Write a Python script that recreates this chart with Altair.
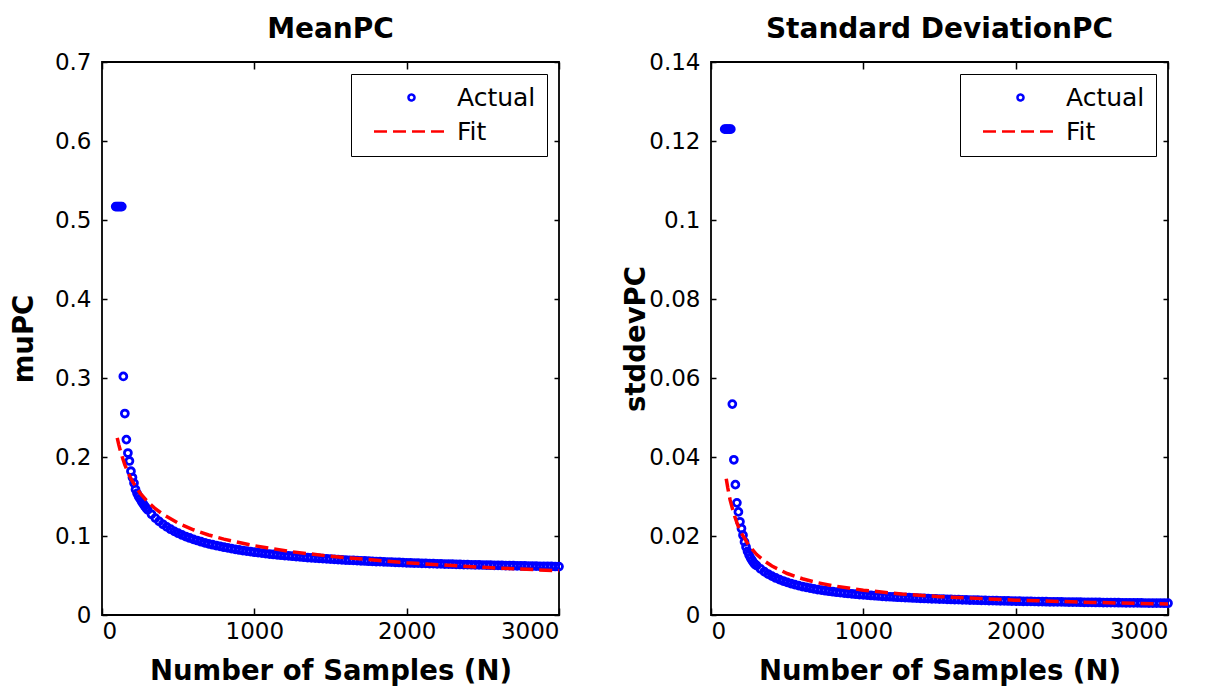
import altair as alt
import pandas as pd

# ---------------- data ----------------
N_ACTUAL = [90, 100, 110, 120, 130, 140, 150, 160, 170, 180, 190, 200, 210, 220, 230, 240, 250, 260, 270, 280, 290, 300,
            325, 350, 375, 400, 425, 450, 475, 500, 525, 550, 575, 600, 625, 650, 675, 700, 725, 750, 775, 800,
            825, 850, 875, 900, 925, 950, 975, 1000,
            1025, 1050, 1075, 1100, 1125, 1150, 1175, 1200, 1225, 1250, 1275, 1300, 1325, 1350, 1375, 1400,
            1425, 1450, 1475, 1500,
            1525, 1550, 1575, 1600, 1625, 1650, 1675, 1700, 1725, 1750, 1775, 1800, 1825, 1850, 1875, 1900,
            1925, 1950, 1975, 2000,
            2025, 2050, 2075, 2100, 2125, 2150, 2175, 2200, 2225, 2250, 2275, 2300, 2325, 2350, 2375, 2400,
            2425, 2450, 2475, 2500,
            2525, 2550, 2575, 2600, 2625, 2650, 2675, 2700, 2725, 2750, 2775, 2800, 2825, 2850, 2875, 2900,
            2925, 2950, 2975, 3000]

MU_ACTUAL = [0.517, 0.517, 0.517, 0.517, 0.517,
             0.302, 0.255, 0.222, 0.205, 0.195, 0.182, 0.174, 0.167,
             0.159, 0.154, 0.150, 0.147, 0.1437, 0.1408, 0.138, 0.1354, 0.133,
             0.1275, 0.1227, 0.1185, 0.1148, 0.1116, 0.1086, 0.1059, 0.1035, 0.1013, 0.0993, 0.0975, 0.0958,
             0.0943, 0.0928, 0.0914, 0.0901, 0.0890, 0.0879, 0.0868, 0.0858, 0.0849, 0.0840, 0.0831, 0.0823,
             0.0816, 0.0809, 0.0802, 0.0795,
             0.0789, 0.0783, 0.0777, 0.0771, 0.0766, 0.0761, 0.0757, 0.0752, 0.0748, 0.0744, 0.0739, 0.0735,
             0.0731, 0.0727, 0.0724, 0.0720, 0.0717, 0.0714, 0.0711, 0.0708,
             0.0705, 0.0702, 0.0699, 0.0696, 0.0693, 0.0691, 0.0688, 0.0686, 0.0684, 0.0681, 0.0679, 0.0677,
             0.0675, 0.0673, 0.0671, 0.0669, 0.0667, 0.0665, 0.0663, 0.0661,
             0.0659, 0.0658, 0.0656, 0.0654, 0.0653, 0.0651, 0.0650, 0.0648, 0.0647, 0.0645, 0.0644, 0.0643,
             0.0641, 0.0640, 0.0639, 0.0637, 0.0636, 0.0635, 0.0634, 0.0633,
             0.0632, 0.0630, 0.0629, 0.0628, 0.0627, 0.0626, 0.0625, 0.0624, 0.0623, 0.0622, 0.0621, 0.0620,
             0.0619, 0.0618, 0.0617, 0.0616, 0.0616, 0.0615, 0.0614, 0.0613]

SD_ACTUAL = [0.123, 0.123, 0.123, 0.123, 0.123,
             0.0534, 0.0393, 0.0330, 0.0284, 0.0261, 0.0236, 0.0219, 0.0202,
             0.0185, 0.0172, 0.0161, 0.0152, 0.0144, 0.0138, 0.0132, 0.0128, 0.0125,
             0.01167, 0.01098, 0.01037, 0.00985, 0.00938, 0.00897, 0.00860, 0.00826, 0.00796, 0.00769,
             0.00744, 0.00721, 0.00700, 0.00680, 0.00662, 0.00645, 0.00630, 0.00615, 0.00602, 0.00589,
             0.00577, 0.00565, 0.00555, 0.00545, 0.00535, 0.00526, 0.00518, 0.00510,
             0.00502, 0.00495, 0.00488, 0.00481, 0.00474, 0.00468, 0.00462, 0.00457, 0.00451, 0.00446,
             0.00441, 0.00437, 0.00432, 0.00428, 0.00423, 0.00419, 0.00415, 0.00411, 0.00408, 0.00404,
             0.00401, 0.00397, 0.00394, 0.00391, 0.00388, 0.00385, 0.00382, 0.00379, 0.00377, 0.00374,
             0.00371, 0.00369, 0.00366, 0.00364, 0.00362, 0.00360, 0.00357, 0.00355, 0.00353, 0.00351,
             0.00349, 0.00347, 0.00346, 0.00344, 0.00342, 0.00340, 0.00339, 0.00337, 0.00335, 0.00334,
             0.00332, 0.00331, 0.00329, 0.00328, 0.00326, 0.00325, 0.00324, 0.00322, 0.00321, 0.00320,
             0.00318, 0.00317, 0.00316, 0.00315, 0.00314, 0.00312, 0.00311, 0.00310, 0.00309, 0.00308,
             0.00307, 0.00306, 0.00305, 0.00304, 0.00303, 0.00302, 0.00301, 0.00300, 0.00299, 0.00299]

N_FIT = [100, 110, 125, 150, 175, 200, 250, 300, 350, 400, 500, 600, 700, 800, 1000, 1250, 1500, 2000, 2500, 3000]
MU_FIT = [0.2243, 0.2157, 0.2048, 0.1901, 0.1785, 0.1690, 0.1543, 0.1433, 0.1345, 0.1275, 0.1163, 0.1079,
          0.1013, 0.0960, 0.0877, 0.0800, 0.0743, 0.0661, 0.0603, 0.0560]
SD_FIT = [0.0345, 0.0322, 0.0292, 0.0256, 0.0228, 0.0207, 0.0175, 0.0153, 0.0137, 0.0124, 0.0105, 0.00917,
          0.00818, 0.00741, 0.00628, 0.00532, 0.00465, 0.00376, 0.00319, 0.00279]

X_TICKS = [0, 1000, 2000, 3000]
MU_TICKS = [0, 0.1, 0.2, 0.3, 0.4, 0.5, 0.6, 0.7]
SD_TICKS = [0, 0.02, 0.04, 0.06, 0.08, 0.1, 0.12, 0.14]
SERIES = ["Actual", "Fit"]

# ---------------- styling ----------------
FONT = "DejaVu Sans"
BLUE = "#0000FF"
RED = "#FF0000"
DASH = [13, 6]
CIRCLE_PATH = "M1,0A1,1,0,1,1,-1,0A1,1,0,1,1,1,0Z"
LINE_PATH = "M-12.5,0H12.5"


def panel(y_act, y_fit, title, ytitle, ymax, yticks, ytitle_pad):
    act = pd.DataFrame({"N": N_ACTUAL, "v": y_act})
    fit = pd.DataFrame({"N": N_FIT, "v": y_fit})
    xs = alt.Scale(domain=[0, 3000], nice=False, zero=False)
    ys = alt.Scale(domain=[0, ymax], nice=False)

    pts = alt.Chart(act).mark_point(
        filled=False, shape="circle", size=48, strokeWidth=2.8, color=BLUE, opacity=1
    ).encode(
        x=alt.X("N:Q", scale=xs, axis=alt.Axis(
            values=X_TICKS, format="d", title="Number of Samples (N)", offset=-7, tickSize=7,
            domain=False, grid=False, labelPadding=5, titlePadding=14)),
        y=alt.Y("v:Q", scale=ys, axis=alt.Axis(
            values=yticks, format="~g", title=ytitle, offset=-5, tickSize=5,
            domain=False, grid=False, labelPadding=11, titlePadding=ytitle_pad)),
    )

    line = alt.Chart(fit).mark_line(
        color=RED, strokeWidth=3.5, strokeDash=DASH
    ).encode(
        x=alt.X("N:Q", scale=xs, axis=alt.Axis(
            orient="top", values=X_TICKS, labels=False, title=None, offset=-7, tickSize=7,
            domain=False, grid=False)),
        y=alt.Y("v:Q", scale=ys, axis=alt.Axis(
            orient="right", values=yticks, labels=False, title=None, offset=-5, tickSize=5,
            domain=False, grid=False)),
    )

    leg_props = dict(
        title=None, orient="top-right", offset=12, padding=11, rowPadding=8,
        labelFont=FONT, labelFontSize=25, labelColor="black", labelOffset=33,
        symbolOffset=37, symbolSize=36, symbolStrokeWidth=2.5,
        strokeColor="black", fillColor="white",
    )
    leg = alt.Chart(fit).transform_calculate(s="'Fit'").transform_filter("false").mark_point(
        filled=False, strokeWidth=2.5, opacity=1
    ).encode(
        x=alt.X("N:Q", scale=xs, axis=None),
        y=alt.Y("v:Q", scale=ys, axis=None),
        color=alt.Color("s:N", scale=alt.Scale(domain=SERIES, range=[BLUE, RED]),
                        legend=alt.Legend(**leg_props)),
        shape=alt.Shape("s:N", scale=alt.Scale(domain=SERIES, range=[CIRCLE_PATH, LINE_PATH]),
                        legend=alt.Legend(**leg_props)),
        strokeDash=alt.StrokeDash("s:N", scale=alt.Scale(domain=SERIES, range=[[1, 0], DASH]),
                                  legend=alt.Legend(**leg_props)),
    )

    return alt.layer(pts, line, leg).resolve_axis(
        x="independent", y="independent"
    ).properties(
        width=457, height=553,
        title=alt.TitleParams(title, font=FONT, fontSize=28, fontWeight="bold", color="black", offset=7),
    )


left = panel(MU_ACTUAL, MU_FIT, "MeanPC", "muPC", 0.7, MU_TICKS, 16)
right = panel(SD_ACTUAL, SD_FIT, "Standard DeviationPC", "stddevPC", 0.14, SD_TICKS, -2)

chart = alt.hconcat(left, right, spacing=52).resolve_scale(
    color="independent", shape="independent", strokeDash="independent"
).configure_view(
    stroke="black", strokeWidth=1.8
).configure_axis(
    labelFont=FONT, labelFontSize=23, labelColor="black", labelFontWeight="normal",
    titleFont=FONT, titleFontSize=27.5, titleFontWeight="bold", titleColor="black",
    tickColor="black", tickWidth=1.5,
).properties(
    background="white",
    padding={"left": 1, "top": 7, "right": 2, "bottom": 0},
)

chart.save("out.html", embed_options={"renderer": "svg", "actions": False})
